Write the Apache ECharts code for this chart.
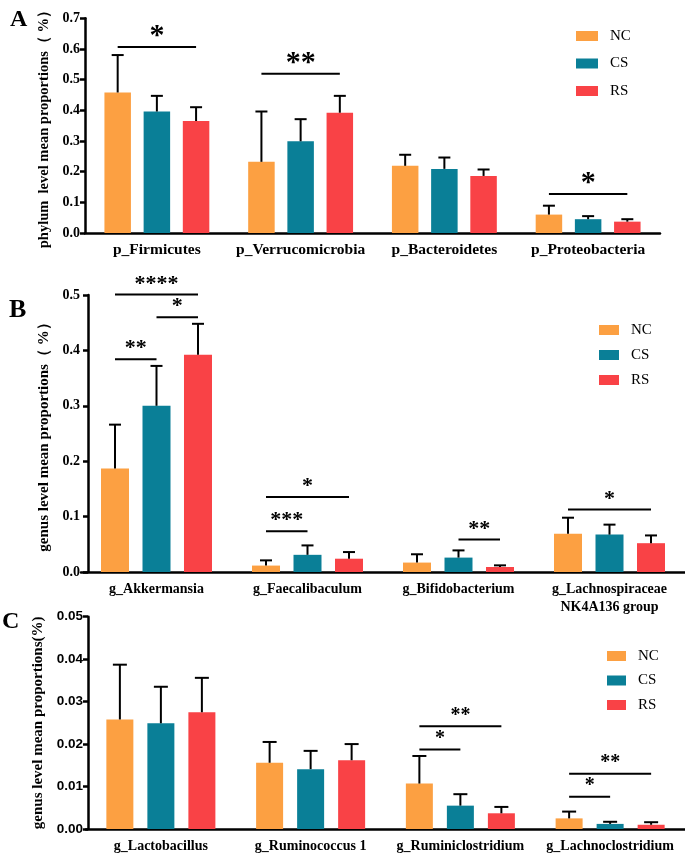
<!DOCTYPE html>
<html><head><meta charset="utf-8">
<script src="https://cdn.jsdelivr.net/npm/echarts@6/dist/echarts.min.js"></script>
<style>html,body{margin:0;padding:0;background:#fff}#c{width:685px;height:855px}</style>
</head><body><div id="c"></div>
<script>
// ---------- data ----------
const groups = ['NC', 'CS', 'RS'];

// Panel A (phylum)
const catA = ['p_Firmicutes', 'p_Verrucomicrobia', 'p_Bacteroidetes', 'p_Proteobacteria'];
const aNC = [0.458, 0.232, 0.219, 0.060];
const aCS = [0.396, 0.299, 0.209, 0.045];
const aRS = [0.365, 0.392, 0.186, 0.037];
const aNCsd = [0.122, 0.164, 0.036, 0.029];
const aCSsd = [0.051, 0.072, 0.037, 0.010];
const aRSsd = [0.045, 0.055, 0.021, 0.008];
// [category, fromGroup, toGroup, y, label]
const sigA = [[0, 0, 2, 0.606, '*'], [1, 0, 2, 0.519, '**'], [3, 0, 2, 0.127, '*']];
const ticksA = [0, 0.7, 0.1];

// Panel B (genus)
const catB = ['g_Akkermansia', 'g_Faecalibaculum', 'g_Bifidobacterium', 'g_Lachnospiraceae\nNK4A136 group'];
const bNC = [0.187, 0.0116, 0.017, 0.069];
const bCS = [0.300, 0.031, 0.026, 0.0675];
const bRS = [0.392, 0.024, 0.009, 0.052];
const bNCsd = [0.079, 0.0094, 0.015, 0.029];
const bCSsd = [0.072, 0.017, 0.013, 0.018];
const bRSsd = [0.056, 0.012, 0.003, 0.014];
const sigB = [[0, 0, 2, 0.501, '****'], [0, 1, 2, 0.460, '*'], [0, 0, 1, 0.384, '**'],
              [1, 0, 2, 0.1356, '*'], [1, 0, 1, 0.0735, '***'], [2, 1, 2, 0.0585, '**'], [3, 0, 2, 0.113, '*']];
const ticksB = [0, 0.5, 0.1];

// Panel C (genus, low abundance)
const catC = ['g_Lactobacillus', 'g_Ruminococcus 1', 'g_Ruminiclostridium', 'g_Lachnoclostridium'];
const cNC = [0.0258, 0.0156, 0.0107, 0.0025];
const cCS = [0.0249, 0.0141, 0.0055, 0.0012];
const cRS = [0.0275, 0.0162, 0.0037, 0.0010];
const cNCsd = [0.0129, 0.0049, 0.0065, 0.0016];
const cCSsd = [0.0086, 0.0043, 0.0027, 0.0005];
const cRSsd = [0.0081, 0.0038, 0.0015, 0.0006];
const sigC = [[2, 0, 2, 0.0242, '**'], [2, 0, 1, 0.01875, '*'], [3, 0, 2, 0.0130, '**'], [3, 0, 1, 0.0076, '*']];
const ticksC = [0, 0.05, 0.01];

// ---------- styling ----------
const SERIF = '"Liberation Serif", "Times New Roman", serif';
const SANS = '"Liberation Sans", Arial, sans-serif';
const COLORS = ['#FCA042', '#0A7F97', '#F94246'];

const panels = [
  { cats: catA, vals: [aNC, aCS, aRS], sds: [aNCsd, aCSsd, aRSsd], sig: sigA, ticks: ticksA, dec: 1,
    grid: { left: 85, top: 13, width: 575, height: 220 }, yOffset: 0, barW: 26.5, spacing: 39.2, capW: 12,
    labelMargin: 5, labelFont: SERIF, labelSize: 14, catSize: 15.5, name: 'phylum  level mean proportions（ %）', nameGap: 31, nameSize: 14.5,
    starSize: 30, legend: { left: 576, top: 28, w: 22, gap: 11.5 }, letter: { t: 'A', left: 10, top: 8, size: 24 } },
  { cats: catB, vals: [bNC, bCS, bRS], sds: [bNCsd, bCSsd, bRSsd], sig: sigB, ticks: ticksB, dec: 1,
    grid: { left: 81, top: 295, width: 608, height: 277 }, yOffset: -7, barW: 28, spacing: 41.5, capW: 12,
    labelMargin: 8, labelFont: SERIF, labelSize: 14, catSize: 14, name: 'genus level mean proportions（ %）', nameGap: 36, nameSize: 15,
    starSize: 22, legend: { left: 599, top: 322, w: 20, gap: 9 }, letter: { t: 'B', left: 9, top: 297, size: 26 } },
  { cats: catC, vals: [cNC, cCS, cRS], sds: [cNCsd, cCSsd, cRSsd], sig: sigC, ticks: ticksC, dec: 2,
    grid: { left: 86, top: 616.7, width: 601, height: 213.3 }, yOffset: -2, barW: 27, spacing: 41, capW: 14,
    labelMargin: 5, labelFont: SANS, labelSize: 13.5, catSize: 14, name: 'genus level mean proportions(%)', nameGap: 38, nameSize: 15,
    starSize: 20, legend: { left: 607, top: 648, w: 19, gap: 8.5 }, letter: { t: 'C', left: 2, top: 610, size: 24 } }
];

function errRender(spacing, capW) {
  return function (params, api) {
    const cat = api.value(0), g = api.value(1), m = api.value(2), sd = api.value(3);
    const p0 = api.coord([cat, m]);
    const p1 = api.coord([cat, m + sd]);
    const x = p0[0] + (g - 1) * spacing;
    return { type: 'group', children: [
      { type: 'line', shape: { x1: x, y1: p0[1], x2: x, y2: p1[1] }, style: { stroke: '#000', lineWidth: 2 } },
      { type: 'line', shape: { x1: x - capW / 2, y1: p1[1], x2: x + capW / 2, y2: p1[1] }, style: { stroke: '#000', lineWidth: 2 } }
    ] };
  };
}
function sigRender(sig, spacing, fs) {
  return function (params, api) {
    const s = sig[params.dataIndex];
    const a = api.coord([s[0], s[3]]);
    const x1 = a[0] + (s[1] - 1) * spacing, x2 = a[0] + (s[2] - 1) * spacing;
    return { type: 'group', children: [
      { type: 'line', shape: { x1: x1, y1: a[1], x2: x2, y2: a[1] }, style: { stroke: '#000', lineWidth: 2 } },
      { type: 'text', x: (x1 + x2) / 2, y: a[1] - 10.5,
        style: { text: s[4], fontFamily: SERIF, fontWeight: 'bold', fontSize: fs, fill: '#000', align: 'center', verticalAlign: 'middle' } }
    ] };
  };
}

const option = { animation: false, backgroundColor: '#fff', grid: [], xAxis: [], yAxis: [], series: [], legend: [], graphic: [] };

panels.forEach((p, i) => {
  option.grid.push(Object.assign({ containLabel: false }, p.grid));
  option.xAxis.push({
    type: 'category', gridIndex: i, data: p.cats,
    axisLine: { lineStyle: { color: '#000', width: 2.5 } },
    axisTick: { alignWithLabel: true, length: 6, lineStyle: { color: '#000', width: 2.5 } },
    axisLabel: { interval: 0, margin: 8, color: '#000', fontFamily: SERIF, fontWeight: 'bold', fontSize: p.catSize, lineHeight: 18 },
    splitLine: { show: false }
  });
  option.yAxis.push({
    type: 'value', gridIndex: i, min: p.ticks[0], max: p.ticks[1], interval: p.ticks[2], offset: p.yOffset,
    name: p.name, nameLocation: 'middle', nameGap: p.nameGap,
    nameTextStyle: { color: '#000', fontFamily: SERIF, fontWeight: 'bold', fontSize: p.nameSize },
    axisLine: { show: true, lineStyle: { color: '#000', width: 2.5 } },
    axisTick: { show: true, length: 5, lineStyle: { color: '#000', width: 2.5 } },
    axisLabel: { margin: p.labelMargin, color: '#000', fontFamily: p.labelFont, fontWeight: 'bold', fontSize: p.labelSize,
                 formatter: v => v.toFixed(p.dec) },
    splitLine: { show: false }
  });
  groups.forEach((g, gi) => {
    option.series.push({
      type: 'bar', name: g, xAxisIndex: i, yAxisIndex: i, data: p.vals[gi],
      barWidth: p.barW, barGap: ((p.spacing - p.barW) / p.barW * 100).toFixed(1) + '%',
      itemStyle: { color: COLORS[gi] }, z: 2
    });
  });
  const errData = [];
  groups.forEach((g, gi) => p.vals[gi].forEach((v, ci) => errData.push([ci, gi, v, p.sds[gi][ci]])));
  option.series.push({
    type: 'custom', name: 'err' + i, xAxisIndex: i, yAxisIndex: i, data: errData,
    encode: { x: 0, y: 2 }, renderItem: errRender(p.spacing, p.capW), z: 3, clip: false
  });
  option.series.push({
    type: 'custom', name: 'sig' + i, xAxisIndex: i, yAxisIndex: i, data: p.sig.map(s => [s[0], s[3]]),
    encode: { x: 0, y: 1 }, renderItem: sigRender(p.sig, p.spacing, p.starSize), z: 4, clip: false
  });
  option.legend.push({
    data: groups, orient: 'vertical', left: p.legend.left, top: p.legend.top, padding: 0,
    itemWidth: p.legend.w, itemHeight: 10, itemGap: p.legend.gap, icon: 'rect', selectedMode: false,
    textStyle: { color: '#000', fontFamily: SERIF, fontSize: 15, lineHeight: 16, padding: [0, 0, 0, 7] }
  });
  option.graphic.push({
    type: 'text', left: p.letter.left, top: p.letter.top,
    style: { text: p.letter.t, fill: '#000', font: 'bold ' + p.letter.size + 'px ' + SERIF }
  });
});

const chart = echarts.init(document.getElementById('c'), null, { renderer: 'canvas' });
chart.setOption(option);
</script>
</body></html>
